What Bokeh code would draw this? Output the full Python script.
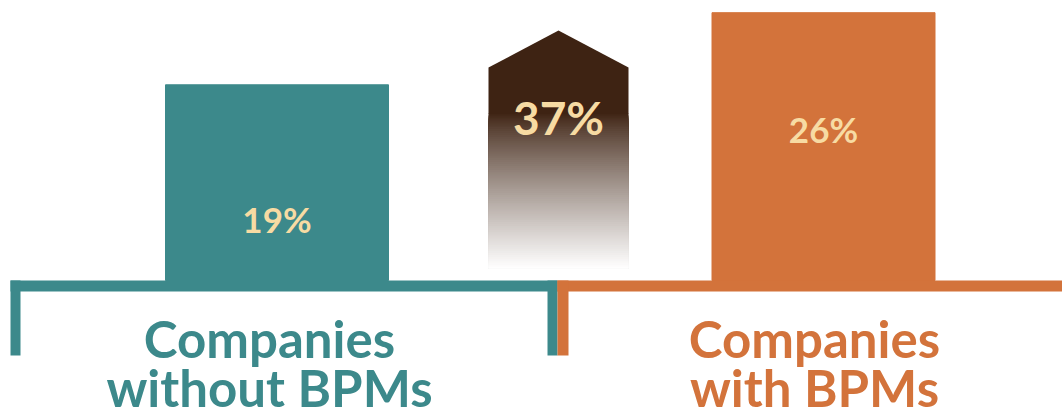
from bokeh.plotting import figure
from bokeh.models import Range1d
from bokeh.core.properties import value
from bokeh.embed import file_html
from bokeh.resources import INLINE

# ---- data ----
categories = ["Companies\nwithout BPMs", "Companies\nwith BPMs"]
cat_line1 = ["Companies", "Companies"]
cat_line2 = ["without BPMs", "with BPMs"]
values = [19, 26]
value_labels = ["19%", "26%"]
increase_label = "37%"

# ---- style ----
TEAL = "#3c898b"
ORANGE = "#d3733b"
CREAM = "#f7dba3"
BROWN = (62, 35, 19)
bar_colors = [TEAL, ORANGE]

W, H = 1062, 413
PX = 10.3          # pixels per percentage point
BASE = 280         # baseline pixel row (from top)


def py(px):
    """convert a pixel row (from top) to data units"""
    return (BASE - px) / PX


p = figure(width=W, height=H, x_range=Range1d(0, W), y_range=Range1d(py(H), py(0)),
           output_backend="svg", toolbar_location=None, min_border=0,
           background_fill_color="white", border_fill_color="white")
p.axis.visible = False
p.grid.visible = False
p.outline_line_color = None

centers = [276.5, 823]
bar_w = 223

# bars
p.vbar(x=centers, width=bar_w, bottom=0, top=values, color=bar_colors)

# brackets
p.quad(left=[10, 10, 547], right=[557, 20, 557],
       top=[py(280), py(280), py(280)], bottom=[py(291), py(355), py(355)],
       color=TEAL, line_color=None)
p.quad(left=[557, 557], right=[W, 568],
       top=[py(280), py(280)], bottom=[py(291), py(355)],
       color=ORANGE, line_color=None)

# gradient arrow (decorative, represents the increase)
ax0, ax1, axc = 488, 628, 558
solid_to = 113
fade_to = 268
n = 80
lefts, rights, tops, bottoms, cols = [], [], [], [], []
for i in range(n):
    t0 = solid_to + (fade_to - solid_to) * i / n
    f = ((i + 0.5) / n) ** 0.85
    c = tuple(int(round(BROWN[k] + (255 - BROWN[k]) * f)) for k in range(3))
    lefts.append(ax0); rights.append(ax1)
    tops.append(py(t0)); bottoms.append(py(fade_to))
    cols.append("#%02x%02x%02x" % c)
p.quad(left=lefts, right=rights, top=tops, bottom=bottoms, color=cols, line_color=None)
brown_hex = "#%02x%02x%02x" % BROWN
p.patch(x=[ax0, axc, ax1, ax1, ax0], y=[py(67), py(30), py(67), py(solid_to + 0.5), py(solid_to + 0.5)],
        color=brown_hex, line_color=None)

# value labels
p.text(x=centers, y=[py(218), py(128)], text=value_labels,
       text_font=value("Lato"), text_font_style="bold", text_font_size="35px",
       text_color=CREAM, text_align="center", text_baseline="middle")
p.text(x=[axc], y=[py(117)], text=[increase_label],
       text_font=value("Lato"), text_font_style="bold", text_font_size="46px",
       text_color=CREAM, text_align="center", text_baseline="middle")

# category labels
label_x = [269, 814]
p.text(x=label_x, y=[py(338)] * 2, text=cat_line1,
       text_font=value("Lato"), text_font_style="bold", text_font_size="51px",
       text_color=bar_colors, text_align="center", text_baseline="middle")
p.text(x=label_x, y=[py(387)] * 2, text=cat_line2,
       text_font=value("Lato"), text_font_style="bold", text_font_size="51px",
       text_color=bar_colors, text_align="center", text_baseline="middle")

open("out.html", "w").write(file_html(p, INLINE))
